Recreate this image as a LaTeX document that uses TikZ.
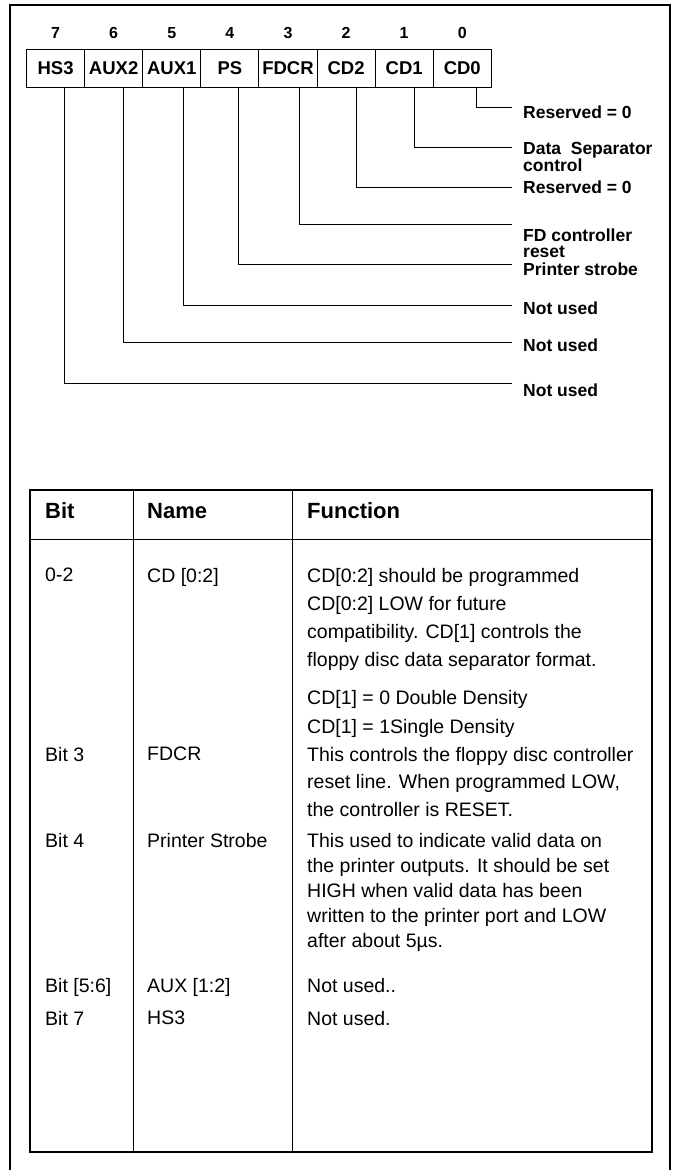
\documentclass[tikz,border=0pt]{standalone}
\usepackage{fontspec}
\setmainfont{Liberation Sans}

\begin{document}
\begin{tikzpicture}[x = 1pt, y = -1pt]
\tikzstyle{RegStyle}=[draw, line width = 1pt,
                      minimum width = 58.1pt,
                      minimum height = 38pt,
                      inner sep = 0pt,
                      font = \bfseries\fontsize{18.5}{20}\selectfont]
\tikzstyle{BitStyle}=[inner sep = 0pt, font = \bfseries\fontsize{16}{17}\selectfont]
\tikzstyle{WireStyle}=[line width = 1pt]
\tikzstyle{LabelStyle}=[anchor = west, inner sep = 0pt, align = left,
                        font = \bfseries\fontsize{17.5}{16}\selectfont]
\tikzstyle{HeadStyle}=[anchor = west, inner sep = 0pt, font = \bfseries\fontsize{22}{24}\selectfont]
\tikzstyle{CellStyle}=[anchor = north west, inner sep = 0pt, align = left,
                       font = \fontsize{19.5}{28}\selectfont]
\useasboundingbox (0,0) rectangle (677,1170);
% outer frame
\draw[line width = 1.2pt] (10,1170) -- (10,5) -- (670,5) -- (670,1170);
% register bits
\foreach \b/\t in {7/HS3, 6/AUX2, 5/AUX1, 4/PS, 3/FDCR, 2/CD2, 1/CD1, 0/CD0}
{
  \node[RegStyle, anchor = north west] (b\b) at ({26+58.1*(7-\b)}, 49) {\t};
  \node[BitStyle] (n\b) at ([yshift = 16pt]b\b.north) {\b};
}
% wires to the labels
\foreach \b/\dx/\y in {0/14/107, 1/10/147, 2/10/187, 3/12/224, 4/9/264, 5/12/305, 6/10/342, 7/9/383}
{
  \coordinate (e\b) at (512,\y);
  \draw[WireStyle] ([xshift = \dx pt]b\b.south) |- (e\b);
}
\node[LabelStyle] (l0) at (523,112) {Reserved = 0};
\node[LabelStyle] (l1) at (523,157) {Data\ \ Separator\\control};
\node[LabelStyle] (l2) at (523,187) {Reserved = 0};
\node[LabelStyle] (l3) at (523,243) {FD controller\\reset};
\node[LabelStyle] (l4) at (523,269) {Printer strobe};
\node[LabelStyle] (l5) at (523,308) {Not used};
\node[LabelStyle] (l6) at (523,345) {Not used};
\node[LabelStyle] (l7) at (523,390) {Not used};

% table
\draw[line width = 1.3pt] (30,490) rectangle (652,1152);
\draw[line width = 1pt] (30,539) -- (652,539);
\draw[line width = 1pt] (133,490) -- (133,1152);
\draw[line width = 1pt] (292,490) -- (292,1152);
\node[HeadStyle] (hbit) at (45,511) {Bit};
\node[HeadStyle] (hname) at (147,511) {Name};
\node[HeadStyle] (hfunc) at (307,511) {Function};

\node[CellStyle] (bit02) at (45,568) {0-2};
\node[CellStyle] (name02) at (147,568) {CD [0:2]};
\node[CellStyle] (func02) at (307,568) {CD[0:2] should be programmed\\
  CD[0:2] LOW for future\\
  compatibility. CD[1] controls the\\
  floppy disc data separator format.};
\node[CellStyle] (func02a) at (307,690) {CD[1] = 0 Double Density};
\node[CellStyle] (func02b) at (307,719) {CD[1] = 1Single Density};

\node[CellStyle] (bit3) at (45,747) {Bit 3};
\node[CellStyle] (name3) at (147,747) {FDCR};
\node[CellStyle, font = \fontsize{19.5}{27.5}\selectfont] (func3) at (307,747) {This controls the floppy disc controller\\
  reset line. When programmed LOW,\\
  the controller is RESET.};

\node[CellStyle] (bit4) at (45,833) {Bit 4};
\node[CellStyle] (name4) at (147,833) {Printer Strobe};
\node[CellStyle, font = \fontsize{19.5}{25}\selectfont] (func4) at (307,833) {This used to indicate valid data on\\
  the printer outputs. It should be set\\
  HIGH when valid data has been\\
  written to the printer port and LOW\\
  after about 5µs.};

\node[CellStyle] (bit56) at (45,978) {Bit [5:6]};
\node[CellStyle] (name56) at (147,978) {AUX [1:2]};
\node[CellStyle] (func56) at (307,978) {Not used..};

\node[CellStyle] (bit7) at (45,1011) {Bit 7};
\node[CellStyle] (name7) at (147,1011) {HS3};
\node[CellStyle] (func7) at (307,1011) {Not used.};
\end{tikzpicture}
\end{document}
